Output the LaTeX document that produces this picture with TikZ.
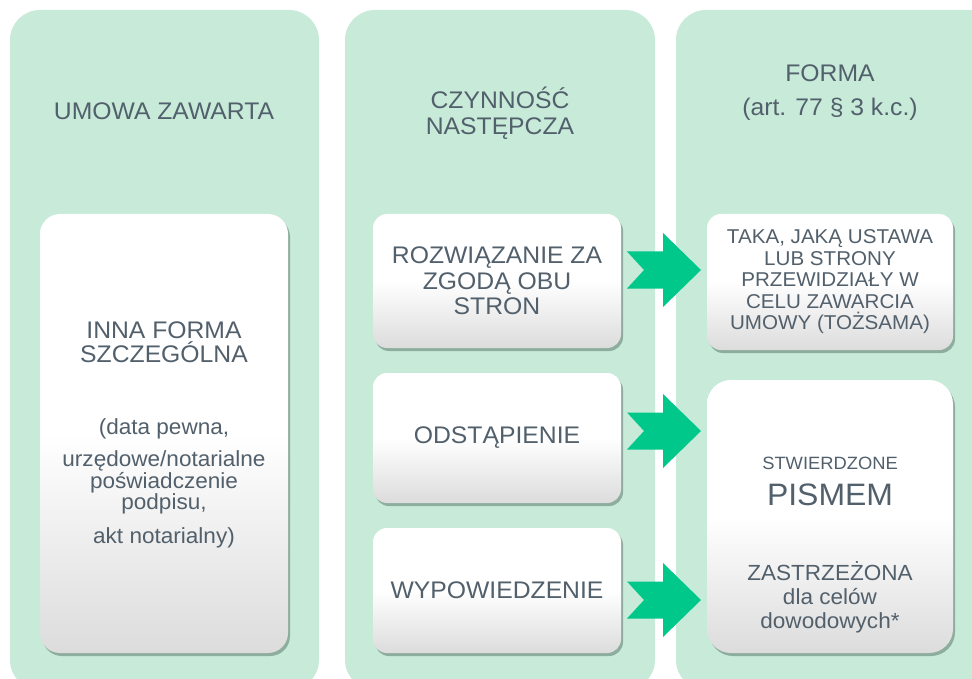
\documentclass[tikz,border=0pt]{standalone}
\usepackage{fontspec}
\setmainfont[FakeStretch=1.03]{Liberation Sans}
\usetikzlibrary{shadows,calc}
\definecolor{mint}{RGB}{200,234,217}
\definecolor{arrowgreen}{RGB}{0,200,138}
\definecolor{slate}{RGB}{82,96,108}
\definecolor{cardgray}{RGB}{220,220,220}
\definecolor{shadowgreen}{RGB}{70,100,88}
\newcommand{\fsz}[2]{\fontsize{#1}{#2}\selectfont}

\begin{document}
\begin{tikzpicture}[x=1pt, y=-1pt,
    panel/.style={fill=mint, rounded corners=30pt},
    card/.style={rounded corners=14pt, top color=white, bottom color=cardgray, middle color=white,
      drop shadow={shadow xshift=2pt, shadow yshift=-3pt, opacity=0.45, fill=shadowgreen},
      text=slate, align=center, inner sep=0pt},
    txt/.style={text=slate, align=center, inner sep=0pt},
    chev/.pic={\fill[arrowgreen] (-37,-18.5) -- (-1,-18.5) -- (-1,-37) -- (37,0) -- (-1,37)
      -- (-1,18.5) -- (-37,18.5) -- (-20,0) -- cycle;}]
  \useasboundingbox (0,0) rectangle (972,679);
  \clip (0,0) rectangle (972,679);
  \fill[white] (0,0) rectangle (972,679);
  % columns
  \fill[panel] (10,10) rectangle (319,690);
  \fill[panel] (345,10) rectangle (655,690);
  \fill[panel] (676,10) rectangle (1000,690);
  \node[txt, font=\fsz{24}{26}] (umowa) at (164,111) {UMOWA ZAWARTA};
  \node[txt, font=\fsz{24}{26}] (czyn) at (500,113) {CZYNNOŚĆ\\NASTĘPCZA};
  \node[txt, font=\fsz{24}{34}] (forma) at (830,93) {FORMA\\(art. 77 § 3 k.c.)};
  % left column
  \node[card, rounded corners=20pt, minimum width=248, minimum height=439] (inna) at (164,433.5) {};
  \node[txt, font=\fsz{24}{24}] (innat) at (164,342) {INNA FORMA\\SZCZEGÓLNA};
  \node[txt, font=\fsz{21.9}{21.5}] (innad) at (164,483) {(data pewna,\\[11pt] urzędowe/notarialne\\ poświadczenie\\ podpisu,\\[12pt] akt notarialny)};
  % middle column
  \node[card, minimum width=248, minimum height=134, font=\fsz{24}{25.5}] (roz) at (497,281) {ROZWIĄZANIE ZA\\ZGODĄ OBU\\STRON};
  \node[card, minimum width=248, minimum height=130, font=\fsz{24}{25.5}] (odst) at (497,438) {ODSTĄPIENIE};
  \node[card, minimum width=248, minimum height=125, font=\fsz{24}{25.5}] (wyp) at (497,590.5) {WYPOWIEDZENIE};
  % right column
  \node[card, minimum width=246, minimum height=136, font=\fsz{20}{21.5}] (taka) at (830,282) {TAKA, JAKĄ USTAWA\\LUB STRONY\\PRZEWIDZIAŁY W\\CELU ZAWARCIA\\UMOWY (TOŻSAMA)};
  \node[card, rounded corners=24pt, minimum width=246, minimum height=273] (pismo) at (830,516.5) {};
  \node[txt, font=\fsz{17.8}{19}] (stw) at (830,463) {STWIERDZONE};
  \node[txt, font=\fsz{31}{30}] (pis) at (830,495) {PISMEM};
  \node[txt, font=\fsz{21.9}{24}] (zastrz) at (830,597) {ZASTRZEŻONA\\dla celów\\dowodowych*};
  % arrows
  \foreach \src/\dst/\dy in {roz/taka/-11, odst/pismo/-7, wyp/pismo/9.5}
    \pic at ($(\src.east)!0.5!(\dst.west |- \src.east) + (0,\dy)$) {chev};
\end{tikzpicture}
\end{document}
